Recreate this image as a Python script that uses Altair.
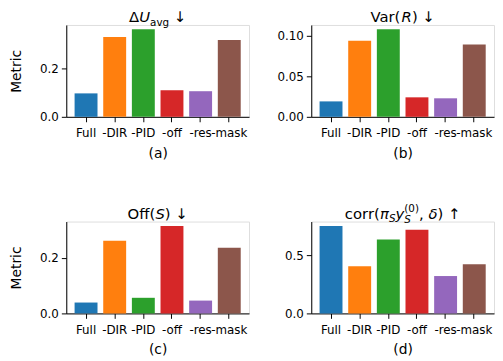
import altair as alt
import pandas as pd

# ---------------- data ----------------
categories = ["Full", "-DIR", "-PID", "-off", "-res", "-mask"]
colors = ["#1f77b4", "#ff7f0e", "#2ca02c", "#d62728", "#9467bd", "#8c564b"]

du_avg = [0.097, 0.330, 0.362, 0.110, 0.106, 0.318]
var_r = [0.019, 0.0935, 0.1077, 0.024, 0.0228, 0.089]
off_s = [0.039, 0.261, 0.056, 0.314, 0.046, 0.236]
corr_v = [0.754, 0.407, 0.636, 0.720, 0.322, 0.424]

ticks_a = [0.0, 0.2]
ticks_b = [0.0, 0.05, 0.10]
ticks_c = [0.0, 0.2]
ticks_d = [0.0, 0.5]

panel_labels = ["(a)", "(b)", "(c)", "(d)"]

# ---------------- layout / style ----------------
W, H = 185, 93
FONT = "DejaVu Sans"
TFS = 15  # title font size
TICKFS = 12
LABFS = 14

ADV = {
    "Δ": 0.684, "U": 0.732, "a": 0.613, "v": 0.592, "g": 0.635, " ": 0.318,
    "↓": 0.838, "↑": 0.838, "V": 0.684, "r": 0.411, "(": 0.390, ")": 0.390,
    "R": 0.695, "O": 0.787, "f": 0.352, "S": 0.635, "c": 0.550, "o": 0.612,
    "π": 0.602, "y": 0.592, "0": 0.636, ",": 0.318, "δ": 0.612,
}


def twidth(s, size):
    return sum(ADV.get(ch, 0.6) for ch in s) * size


def title_layers(slots, base_y=-3):
    """slots: list of lists of pieces (text, italic, scale, shift_em)."""
    widths = []
    for slot in slots:
        widths.append(max(twidth(t, TFS * sc) for t, it, sc, sh in slot))
    total = sum(widths)
    x = W / 2 - total / 2
    layers = []
    for slot, w in zip(slots, widths):
        for t, it, sc, sh in slot:
            if t.strip() == "":
                continue
            lead = len(t) - len(t.lstrip(" "))
            kw = dict(align="left", baseline="alphabetic", font=FONT,
                      fontSize=TFS * sc, color="black", text=t.strip(" "))
            if it:
                kw["fontStyle"] = "italic"
            layers.append(
                alt.Chart(alt.Data(values=[{"k": 1}]))
                .mark_text(**kw)
                .encode(x=alt.value(x + twidth(" " * lead, TFS * sc)),
                        y=alt.value(base_y + sh * TFS))
            )
        x += w
    return layers


titles = [
    [[("Δ", False, 1, 0)], [("U", True, 1, 0)], [("avg", False, 0.7, 0.25)],
     [(" ↓", False, 1, 0)]],
    [[("Var(", False, 1, 0)], [("R", True, 1, 0)], [(") ↓", False, 1, 0)]],
    [[("Off(", False, 1, 0)], [("S", True, 1, 0)], [(") ↓", False, 1, 0)]],
    [[("corr(", False, 1, 0)], [("π", True, 1, 0)], [("S", True, 0.7, 0.25)],
     [("y", True, 1, 0)], [("S", True, 0.7, 0.32), ("(0)", False, 0.7, -0.45)],
     [(", ", False, 1, 0)], [("δ", True, 1, 0)], [(") ↑", False, 1, 0)]],
]

series = [du_avg, var_r, off_s, corr_v]
ticks = [ticks_a, ticks_b, ticks_c, ticks_d]
fmts = [".1f", ".2f", ".1f", ".1f"]


def panel(i):
    vals = series[i]
    df = pd.DataFrame({"cat": categories, "val": vals})
    ymax = max(vals) * 1.05
    yaxis_kw = dict(values=ticks[i], format=fmts[i], grid=False,
                    domainColor="black", tickColor="black", labelColor="black",
                    titleColor="black", tickSize=5, labelFontSize=TICKFS,
                    labelPadding=3, titleFontSize=LABFS, titleFontWeight="normal",
                    titlePadding=16, labelFont=FONT, titleFont=FONT)
    if i % 2 == 0:
        yaxis = alt.Axis(title="Metric", **yaxis_kw)
    else:
        yaxis = alt.Axis(title=None, **yaxis_kw)
    bars = alt.Chart(df).mark_bar().encode(
        x=alt.X("cat:N", sort=categories,
                scale=alt.Scale(paddingInner=0.2, paddingOuter=0.29),
                axis=alt.Axis(title=panel_labels[i], labelAngle=0, grid=False,
                              domainColor="black", tickColor="black",
                              labelColor="black", titleColor="black",
                              tickSize=5, labelFontSize=TICKFS, labelPadding=6,
                              titleFontSize=LABFS, titleFontWeight="normal",
                              titlePadding=8, bandPosition=0.5,
                              labelFont=FONT, titleFont=FONT)),
        y=alt.Y("val:Q", scale=alt.Scale(domain=[0, ymax], nice=False),
                axis=yaxis),
        color=alt.Color("cat:N", scale=alt.Scale(domain=categories, range=colors),
                        legend=None),
    )
    return alt.layer(bars, *title_layers(titles[i])).properties(width=W, height=H)


chart = alt.concat(
    *[panel(i) for i in range(4)], columns=2,
    spacing={"row": 42, "column": 26}
).properties(
    padding={"top": -1, "left": 1, "right": 0, "bottom": 0}
).configure_view(
    stroke="black", strokeWidth=1
).configure(font=FONT)

chart.save("out.html", embed_options={"renderer": "svg", "actions": False})
